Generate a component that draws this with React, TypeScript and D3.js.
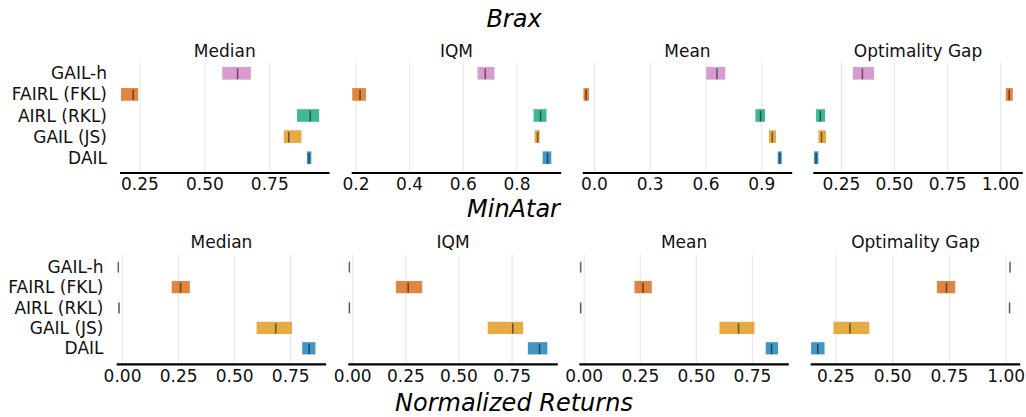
import React from 'react'
import * as d3 from 'd3'

// interval estimates
const algorithms = ['GAIL-h', 'FAIRL (FKL)', 'AIRL (RKL)', 'GAIL (JS)', 'DAIL']
const colors = ['#cc78bc', '#d55e00', '#029e73', '#de8f05', '#0173b2']
const metrics = ['Median', 'IQM', 'Mean', 'Optimality Gap']

// [metric][algorithm]
const braxLow = [
  [0.567, 0.177, 0.855, 0.804, 0.893],
  [0.653, 0.186, 0.862, 0.866, 0.896],
  [0.602, -0.059, 0.866, 0.939, 0.986],
  [0.304, 1.024, 0.131, 0.142, 0.121],
]
const braxPoint = [
  [0.626, 0.224, 0.906, 0.823, 0.901],
  [0.682, 0.215, 0.888, 0.877, 0.914],
  [0.659, -0.045, 0.894, 0.957, 0.997],
  [0.349, 1.04, 0.151, 0.157, 0.131],
]
const braxHigh = [
  [0.677, 0.243, 0.94, 0.872, 0.91],
  [0.716, 0.237, 0.91, 0.885, 0.928],
  [0.704, -0.029, 0.918, 0.977, 1.008],
  [0.404, 1.057, 0.173, 0.178, 0.142],
]

const minatarLow = [
  [-0.02, 0.219, -0.017, 0.598, 0.801],
  [-0.017, 0.203, -0.017, 0.635, 0.824],
  [-0.017, 0.224, -0.017, 0.603, 0.809],
  [1.016, 0.695, 1.014, 0.239, 0.141],
]
const minatarPoint = [
  [-0.019, 0.259, -0.016, 0.683, 0.832],
  [-0.016, 0.261, -0.016, 0.753, 0.879],
  [-0.016, 0.262, -0.016, 0.688, 0.835],
  [1.017, 0.737, 1.015, 0.312, 0.17],
]
const minatarHigh = [
  [-0.018, 0.3, -0.015, 0.755, 0.86],
  [-0.015, 0.327, -0.015, 0.802, 0.916],
  [-0.015, 0.301, -0.015, 0.759, 0.864],
  [1.018, 0.776, 1.016, 0.397, 0.2],
]

const braxDomains = [[0.173, 0.98], [0.184, 0.965], [-0.063, 1.064], [0.118, 1.104]]
const braxTicks = [[0.25, 0.5, 0.75], [0.2, 0.4, 0.6, 0.8], [0.0, 0.3, 0.6, 0.9], [0.25, 0.5, 0.75, 1.0]]
const braxFormats = ['.2f', '.1f', '.1f', '.2f']

const minatarDomains = [[-0.026, 0.908], [-0.021, 0.965], [-0.022, 0.912], [0.139, 1.062]]
const minatarTicks = [[0, 0.25, 0.5, 0.75], [0, 0.25, 0.5, 0.75], [0, 0.25, 0.5, 0.75], [0.25, 0.5, 0.75, 1.0]]
const minatarFormats = ['.2f', '.2f', '.2f', '.2f']

const FONT = 'DejaVu Sans, sans-serif'

const Row = ({ low, point, high, domains, ticks, formats, lefts, rowTop, rowBottom, gridTop, axisY, titleY, tickY, labelX }) => {
  const width = 209.5
  const y = d3.scalePoint().domain(algorithms).range([rowTop, rowBottom])
  const step = (rowBottom - rowTop) / (algorithms.length - 1)
  const barH = step * 0.6
  return (
    <g>
      {algorithms.map((a) => (
        <text key={a} x={labelX} y={y(a)} textAnchor="end" dominantBaseline="central"
          fontSize={17} fontFamily={FONT} fill="#111">{a}</text>
      ))}
      {metrics.map((m, mi) => {
        const x = d3.scaleLinear().domain(domains[mi]).range([lefts[mi], lefts[mi] + width])
        const fmt = d3.format(formats[mi])
        return (
          <g key={m}>
            {ticks[mi].map((t) => (
              <line key={'g' + t} x1={x(t)} x2={x(t)} y1={gridTop} y2={axisY} stroke="#e8e8e8" strokeWidth={1.2} />
            ))}
            {algorithms.map((a, ai) => {
              const cy = y(a)
              const x0 = x(low[mi][ai])
              const x1 = x(high[mi][ai])
              return (
                <g key={a}>
                  <rect x={x0} y={cy - barH / 2} width={Math.max(x1 - x0, 0.8)} height={barH}
                    fill={colors[ai]} fillOpacity={0.75} />
                  <line x1={x(point[mi][ai])} x2={x(point[mi][ai])}
                    y1={cy - step * 0.225} y2={cy + step * 0.28}
                    stroke="#000" strokeOpacity={0.5} strokeWidth={1.6} />
                </g>
              )
            })}
            <line x1={lefts[mi]} x2={lefts[mi] + width} y1={axisY} y2={axisY} stroke="#000" strokeWidth={2.2} />
            {ticks[mi].map((t) => (
              <text key={'t' + t} x={x(t)} y={tickY} textAnchor="middle" fontSize={17} fontFamily={FONT} fill="#111">
                {fmt(t)}
              </text>
            ))}
            <text x={lefts[mi] + width / 2} y={titleY} textAnchor="middle" fontSize={17} fontFamily={FONT} fill="#111">{m}</text>
          </g>
        )
      })}
    </g>
  )
}

export default function App() {
  return (
    <svg width={1026} height={417} style={{ position: 'absolute', left: 0, top: 0, background: '#fff' }}>
      <text x={514} y={27} textAnchor="middle" fontSize={24} fontStyle="italic" fontFamily={FONT}>Brax</text>
      <Row low={braxLow} point={braxPoint} high={braxHigh} domains={braxDomains} ticks={braxTicks}
        formats={braxFormats} lefts={[120, 351.7, 582.7, 813.3]} rowTop={73.3} rowBottom={157.7}
        gridTop={63} axisY={173} titleY={56.7} tickY={190} labelX={107} />
      <text x={513.5} y={216.7} textAnchor="middle" fontSize={24} fontStyle="italic" fontFamily={FONT}>MinAtar</text>
      <Row low={minatarLow} point={minatarPoint} high={minatarHigh} domains={minatarDomains} ticks={minatarTicks}
        formats={minatarFormats} lefts={[116.7, 348.3, 579.3, 810.7]} rowTop={266.7} rowBottom={348.3}
        gridTop={255} axisY={364.3} titleY={247.7} tickY={381.7} labelX={103.5} />
      <text x={514} y={411} textAnchor="middle" fontSize={24} fontStyle="italic" fontFamily={FONT}>Normalized Returns</text>
    </svg>
  )
}
